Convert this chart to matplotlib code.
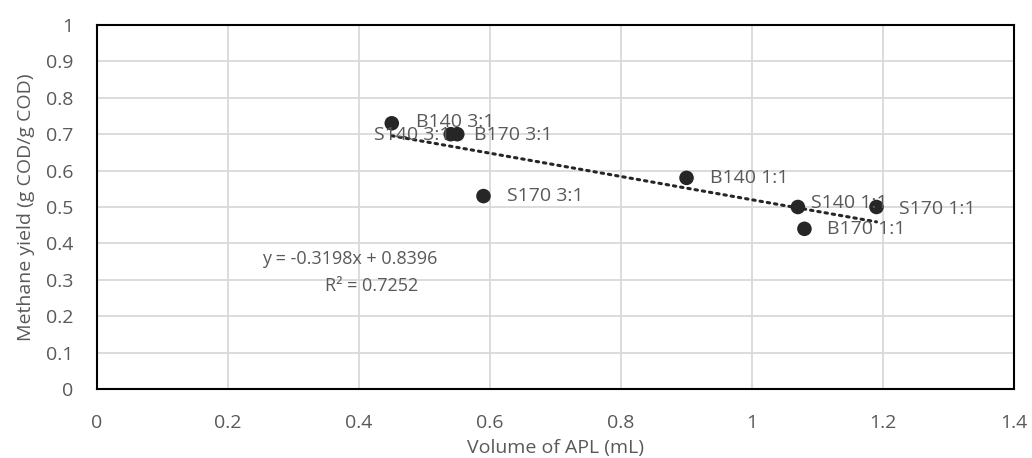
import numpy as np
import matplotlib
matplotlib.use("Agg")
import matplotlib.pyplot as plt

plt.rcParams['font.family'] = ['Open Sans', 'DejaVu Sans']

# Samples: APL volume (mL) and methane yield (g COD/g COD)
labels = ["B140 3:1", "S140 3:1", "B170 3:1", "S170 3:1",
          "B140 1:1", "S140 1:1", "S170 1:1", "B170 1:1"]
volume = [0.45, 0.54, 0.55, 0.59, 0.90, 1.07, 1.19, 1.08]
yield_ = [0.73, 0.70, 0.70, 0.53, 0.58, 0.50, 0.50, 0.44]

x_ticks = [0, 0.2, 0.4, 0.6, 0.8, 1, 1.2, 1.4]
y_ticks = [0, 0.1, 0.2, 0.3, 0.4, 0.5, 0.6, 0.7, 0.8, 0.9, 1]

# label offsets in pixels (dx, dy)
label_offsets = {
    "B140 3:1": (24, 1), "S140 3:1": (-77, -1), "B170 3:1": (17, -1),
    "S170 3:1": (24, 0), "B140 1:1": (23, 0), "S140 1:1": (13, 4),
    "S170 1:1": (23, -2), "B170 1:1": (23, 0),
}

fs = 14
text_col = "#595959"
dot_col = "#262626"

fig = plt.figure(figsize=(10.32, 4.58), dpi=100)
ax = fig.add_axes([0.094, 0.1507, 0.8886, 0.7947])

ax.set_xlim(0, 1.4)
ax.set_ylim(0, 1)
ax.set_xticks(x_ticks)
ax.set_yticks(y_ticks)
ax.set_xticklabels([f"{t:g}" for t in x_ticks])
ax.set_yticklabels([f"{t:g}" for t in y_ticks])
ax.grid(True, color="#d9d9d9", linewidth=1.3)
ax.set_axisbelow(True)
ax.tick_params(length=0, labelsize=fs, colors=text_col)
ax.tick_params(axis='x', pad=18)
ax.tick_params(axis='y', pad=17)
for s in ax.spines.values():
    s.set_color("black")
    s.set_linewidth(1.5)

# linear trendline
slope, intercept = np.polyfit(volume, yield_, 1)
xs = np.array([min(volume), max(volume)])
ax.plot(xs, slope * xs + intercept, color=dot_col, linewidth=2.2,
        linestyle=(0, (0.8, 1.6)), dash_capstyle='round', zorder=2)

ax.scatter(volume, yield_, s=110, color=dot_col, zorder=3, edgecolors='none')

for lab, xv, yv in zip(labels, volume, yield_):
    dx, dy = label_offsets[lab]
    ax.annotate(lab, (xv, yv), xytext=(dx, dy), textcoords='offset pixels',
                ha='left', va='center', fontsize=fs, color=text_col, zorder=4)

ax.text(0.2755, 0.358, "y = -0.3198x + 0.8396", transform=ax.transAxes,
        ha='center', va='center', fontsize=13, color=text_col)
ax.text(0.2995, 0.284, "R² = 0.7252", transform=ax.transAxes,
        ha='center', va='center', fontsize=13, color=text_col)

ax.set_xlabel("Volume of APL (mL)", fontsize=fs, color=text_col, labelpad=5)
ax.set_ylabel("Methane yield (g COD/g COD)", fontsize=fs, color=text_col,
              labelpad=8)

fig.savefig("out.png", dpi=100)
